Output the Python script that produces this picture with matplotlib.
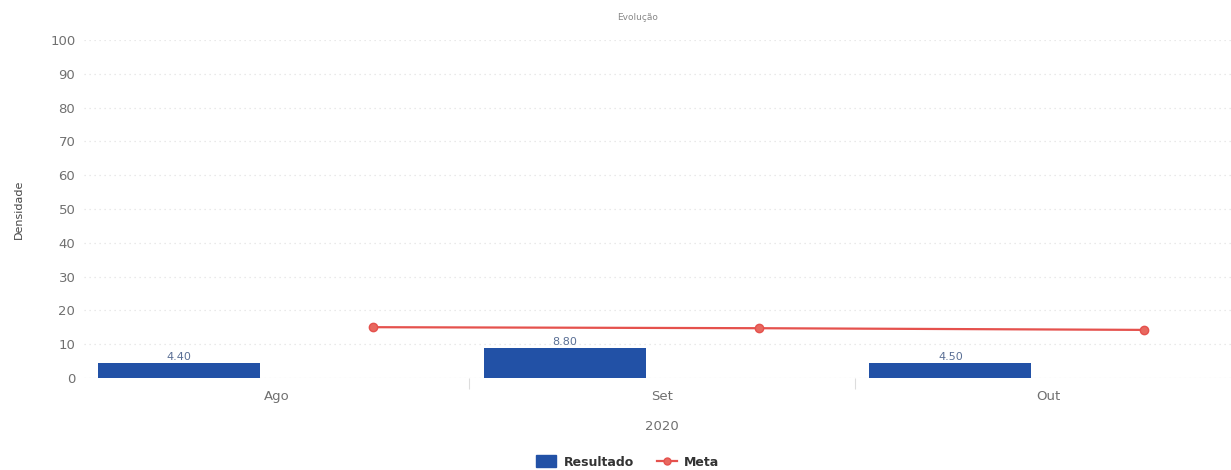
import numpy as np
import matplotlib
matplotlib.use('Agg')
import matplotlib.pyplot as plt
from matplotlib.lines import Line2D
from matplotlib.patches import Patch

plt.rcParams.update({'font.family': 'DejaVu Sans'})

# data
meses = ['Ago', 'Set', 'Out']
ano = '2020'
resultado = [4.40, 8.80, 4.50]
meta = [15.0, 14.7, 14.2]

bar_color = '#2251a6'
line_color = '#e5514d'
grey = '#707070'

fig = plt.figure(figsize=(12.31, 4.70), dpi=100)
ax = fig.add_axes([0.068, 0.196, 0.94, 0.719])

x = np.arange(len(meses))
ax.bar(x - 0.253, resultado, width=0.42, color=bar_color, zorder=3)
ax.plot(x + 0.25, meta, color=line_color, lw=1.6, marker='o', ms=6,
        markerfacecolor='#e8685f', markeredgecolor=line_color, zorder=4)

for xi, v in zip(x, resultado):
    ax.text(xi - 0.253, v + 0.3, '%.2f' % v, ha='center', va='bottom',
            fontsize=8, color='#5a6f95', zorder=5)

ax.set_xlim(-0.5, 2.5)
ax.set_ylim(0, 100)
ax.set_yticks(range(0, 101, 10))
ax.set_xticks(x)
ax.set_xticklabels(meses)
ax.set_xticks([0.5, 1.5], minor=True)
ax.tick_params(axis='x', which='major', length=0, pad=9, labelsize=9.5, labelcolor=grey)
ax.tick_params(axis='x', which='minor', length=8, color='#dddddd', width=0.8)
ax.tick_params(axis='y', length=0, pad=6, labelsize=9.5, labelcolor=grey)

ax.grid(axis='y', color='#e3e3e3', linestyle=(0, (1, 3)), lw=0.9, zorder=0)
for s in ax.spines.values():
    s.set_visible(False)
ax.axhline(0, color='#eeeeee', lw=0.8, zorder=1)

fig.text(0.015, 0.555, 'Densidade', rotation=90, ha='center', va='center',
         fontsize=8, color='#444444')
fig.text(0.518, 0.963, 'Evolução', ha='center', va='center', fontsize=6.5, color='#888888')
fig.text(0.538, 0.093, ano, ha='center', va='center', fontsize=9.5, color=grey)

handles = [Patch(facecolor=bar_color, edgecolor=bar_color),
           Line2D([0], [0], color=line_color, lw=1.6, marker='o', ms=5,
                  markerfacecolor='#e8685f', markeredgecolor=line_color)]
leg = fig.legend(handles, ['Resultado', 'Meta'], loc='center', bbox_to_anchor=(0.51, 0.017),
                 ncol=2, frameon=False, handlelength=1.6, handleheight=1.1,
                 columnspacing=1.8, handletextpad=0.6,
                 prop={'size': 9, 'weight': 'bold'})
for t in leg.get_texts():
    t.set_color('#333333')

fig.savefig('out.png', dpi=100)
